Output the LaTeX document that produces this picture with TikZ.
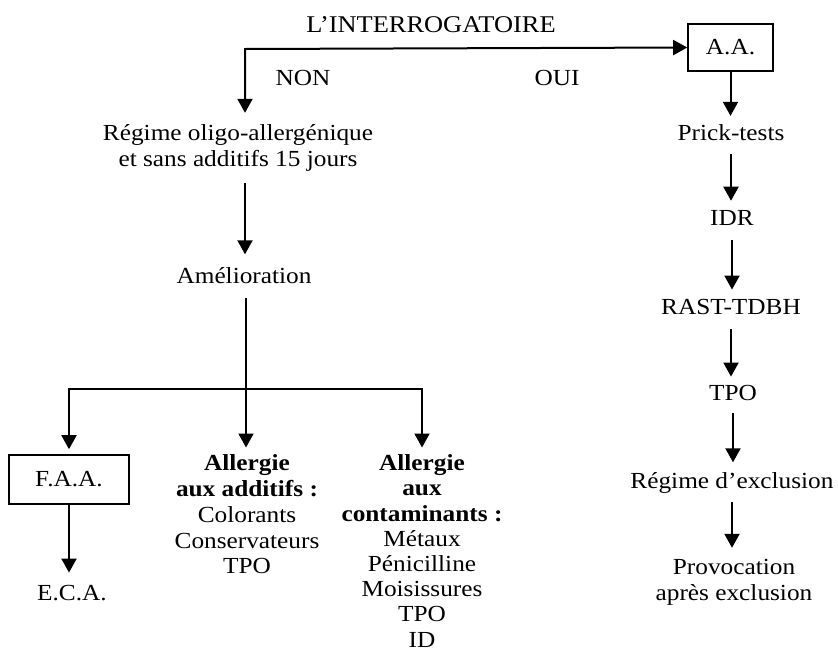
\documentclass[tikz,border=0pt]{standalone}
\usepackage{fontspec}
\setmainfont{Liberation Serif}[FakeStretch=1.1]
\usetikzlibrary{arrows.meta}
\tikzset{
  txt/.style={inner sep=0pt, anchor=base, align=center, font=\fontsize{23}{25.8}\selectfont},
  mtxt/.style={txt, anchor=north},
  bx/.style={draw, line width=1.6pt, inner sep=0pt, font=\fontsize{23}{25.8}\selectfont},
  tip/.tip={Triangle[width=15pt,length=14pt]},
  arr/.style={line width=2pt, -tip},
  ln/.style={line width=2pt},
}
\begin{document}
\begin{tikzpicture}[x=1pt,y=-1pt]
\useasboundingbox (0,0) rectangle (838,654);
% texts
\node[txt, font=\fontsize{24}{26}\selectfont] (interro) at (431,32) {L'INTERROGATOIRE};
\node[txt] (non) at (303,85) {NON};
\node[txt] (oui) at (557,85) {OUI};
\node[bx, minimum width=85pt, minimum height=47pt] (aa) at (730.5,47.5) {A.A.};
\node[txt] (prick) at (731,140) {Prick-tests};
\node[txt] (idr) at (732,225) {IDR};
\node[txt] (rast) at (731,314) {RAST-TDBH};
\node[txt] (tpo) at (733,400) {TPO};
\node[txt] (excl) at (732,488) {Régime d'exclusion};
\node[mtxt] (prov) at (734,558.8) {Provocation\\après exclusion};
\node[mtxt] (oligo) at (238,124.3) {Régime oligo-allergénique\\et sans additifs 15 jours};
\node[txt] (amel) at (244,283) {Amélioration};
\node[bx, minimum width=120pt, minimum height=49pt] (faa) at (69,479.5) {F.A.A.};
\node[txt] (eca) at (72,600) {E.C.A.};
\node[mtxt] (add) at (247,454.5) {\textbf{Allergie}\\\textbf{aux additifs :}\\Colorants\\Conservateurs\\TPO};
\node[mtxt, font=\fontsize{23}{25.2}\selectfont] (cont) at (422,454.5) {\textbf{Allergie}\\\textbf{aux}\\\textbf{contaminants :}\\Métaux\\Pénicilline\\Moisissures\\TPO\\ID};
% coordinates
\coordinate (corner) at (245,49);
\coordinate (split) at (246,389);
% top branch
\draw[line width=2pt, tip-tip, shorten <=11.5pt] (corner |- oligo.north) -- (corner) -- (aa.west);
% right column
\draw[arr, shorten >=8pt] (aa.south) -- (aa.south |- prick.north);
\draw[arr, shorten <=14pt, shorten >=9pt] (prick.south) -- (prick.south |- idr.north);
\draw[arr, shorten <=15pt, shorten >=9pt] (idr.south) -- (idr.south |- rast.north);
\draw[arr, shorten <=15pt, shorten >=8pt] (rast.south) -- (rast.south |- tpo.north);
\draw[arr, shorten <=13pt, shorten >=9.5pt] (tpo.south) -- (tpo.south |- excl.north);
\draw[arr, shorten <=9pt, shorten >=11pt] (excl.south) -- (excl.south |- prov.north);
% left column
\draw[arr, shorten <=12pt, shorten >=12.5pt] (oligo.south -| corner) -- (corner |- amel.north);
\draw[ln, shorten <=15pt] (amel.south -| split) -- (split);
\draw[arr, shorten >=5pt] (split) -| (faa.north);
\draw[arr, shorten >=7pt] (split) -- (split |- add.north);
\draw[arr, shorten >=7pt] (split) -| (cont.north);
\draw[arr, shorten >=12pt] (faa.south) -- (faa.south |- eca.north);
\end{tikzpicture}
\end{document}
